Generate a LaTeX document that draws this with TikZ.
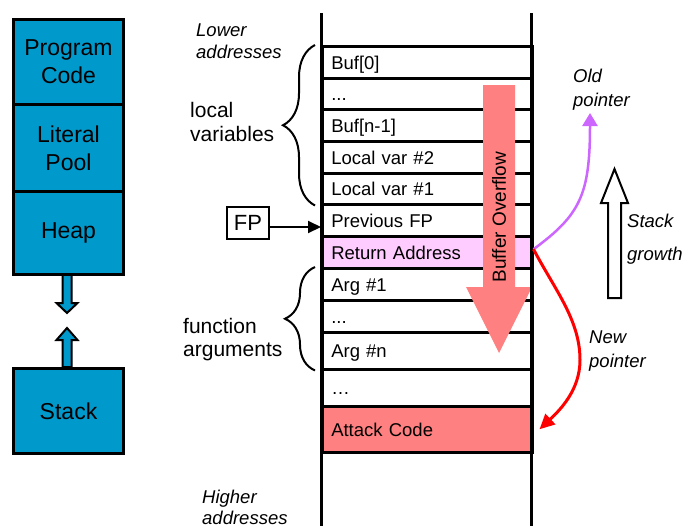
\documentclass[tikz,border=0pt]{standalone}
\usepackage{fontspec}
\setmainfont{Liberation Sans}
\usetikzlibrary{arrows.meta,decorations.pathreplacing,calc}
\definecolor{segblue}{RGB}{0,153,204}
\definecolor{retpink}{RGB}{255,204,255}
\definecolor{ovred}{RGB}{255,128,128}
\definecolor{oldpurple}{RGB}{204,102,255}
\begin{document}
\begin{tikzpicture}[x=1pt,y=-1pt,
  blk/.style={draw, line width=3pt, fill=segblue, minimum width=110pt, anchor=north west,
    align=center, inner sep=0pt, font=\fontsize{23}{28}\selectfont},
  row/.style={draw, line width=2.5pt, minimum width=210pt, anchor=north west,
    text width=192pt, inner xsep=9pt, inner ysep=0pt, align=left,
    text height=15pt, text depth=1pt, font=\fontsize{18.5}{22}\selectfont},
  lab/.style={inner sep=0pt, align=left, anchor=west},
  biglab/.style={lab, font=\fontsize{21}{24.5}\selectfont},
  itlab/.style={lab, font=\itshape\fontsize{18.5}{22}\selectfont},
  bracestyle/.style={decorate, line width=2pt},
  blockarrow/.style={line width=2pt, fill=segblue}]
\useasboundingbox (0,0) rectangle (685,525);

% memory map on the left
\draw[blockarrow] (62.5,273) -- ++(0,30) -- ++(-6,0) -- ++(10.5,10) -- ++(10.5,-10) -- ++(-6,0) -- ++(0,-30) -- cycle;
\draw[blockarrow] (62.5,367) -- ++(0,-27) -- ++(-6,0) -- ++(10.5,-12) -- ++(10.5,12) -- ++(-6,0) -- ++(0,27) -- cycle;
\node[blk, minimum height=85pt] (code) at (12,18) {Program\\Code};
\node[blk, minimum height=87pt] (pool) at (12,103) {Literal\\Pool};
\node[blk, minimum height=83pt] (heap) at (12,190) {Heap};
\node[blk, minimum height=85pt] (stk) at (12,367) {Stack};

% stack frame rows
\node[row, minimum height=32pt] (r1) at (321,45) {Buf[0]};
\node[row, minimum height=31pt] (r2) at (321,77) {...};
\node[row, minimum height=32pt] (r3) at (321,108) {Buf[n-1]};
\node[row, minimum height=32pt] (r4) at (321,140) {Local var \#2};
\node[row, minimum height=31pt] (r5) at (321,172) {Local var \#1};
\node[row, minimum height=32pt] (r6) at (321,203) {Previous FP};
\node[row, minimum height=32pt, fill=retpink] (r7) at (321,235) {Return Address};
\node[row, minimum height=32pt] (r8) at (321,267) {Arg \#1};
\node[row, minimum height=32pt] (r9) at (321,299) {...};
\node[row, minimum height=37pt] (r10) at (321,331) {Arg \#n};
\node[row, minimum height=37pt] (r11) at (321,368) {…};
\node[row, minimum height=46pt, fill=ovred] (r12) at (321,405) {Attack Code};

% overflow arrow across the frame
\fill[ovred] (483,85) -- (515,85) -- (515,287) -- (532,287) -- (499,353) -- (466,287) -- (483,287) -- cycle;
\node[rotate=90, inner sep=0pt, font=\fontsize{19}{22}\selectfont] (ovtext) at (499,217) {Buffer Overflow};

% stack walls
\draw[line width=3pt] (321,13) -- (321,530);
\draw[line width=3pt] (531,13) -- (531,530);

% braces and their labels
\draw[bracestyle, decoration={brace, amplitude=32pt}] (r5.south west) ++(-6,0) coordinate (lvb) -- (lvb |- r1.north west);
\draw[bracestyle, decoration={brace, amplitude=30pt}] (r10.south west) ++(-6,0) coordinate (fab) -- (fab |- r8.north west);
\node[biglab] (lvlab) at (190,122) {local\\variables};
\node[lab, font=\fontsize{21}{23}\selectfont] (falab) at (183,340) {function\\arguments};

\node[itlab] (lower) at (196,41) {Lower\\addresses};
\node[lab, font=\itshape\fontsize{18.5}{21}\selectfont] (higher) at (202,507) {Higher\\addresses};

% frame pointer
\node[draw, line width=2.5pt, minimum width=42pt, minimum height=32pt, inner sep=0pt,
  font=\fontsize{22}{26}\selectfont] (fp) at (248,223) {FP};
\coordinate (fpout) at ([yshift=-4pt]fp.east);
\draw[line width=2pt, -{Triangle[length=13pt,width=12pt]}] (fpout) -- (fpout -| r6.west);

% old and new return pointers
\coordinate (ra) at ([yshift=3pt]r7.east);
\coordinate (oldtip) at (590,113);
\coordinate (newtip) at ([xshift=6pt]r12.east);
\draw[oldpurple, line width=2.5pt, -{Triangle[length=13pt,width=15pt]}]
  (ra) .. controls (580,215) and (590,195) .. (oldtip);
\draw[red, line width=3pt, -{Triangle[length=15pt,width=14pt]}]
  (ra) .. controls (555,290) and (580,320) .. (580,360) .. controls (580,390) and (560,410) .. (newtip);
\node[itlab, font=\itshape\fontsize{18.5}{24}\selectfont] (oldlab) at (573,90) {Old\\pointer};
\node[itlab, font=\itshape\fontsize{18.5}{24}\selectfont] (newlab) at (589,351) {New\\pointer};

% stack growth direction
\draw[line width=2pt, fill=white] (608,298) -- (621,298) -- (621,203) -- (628,203) -- (614.5,169) -- (601,203) -- (608,203) -- cycle;
\node[itlab] (sg1) at (627,221) {Stack};
\node[itlab] (sg2) at (627,256) {growth};
\end{tikzpicture}
\end{document}
